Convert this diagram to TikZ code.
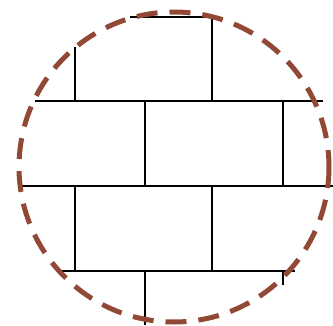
\documentclass[tikz,border=0pt]{standalone}
\definecolor{rim}{RGB}{145,72,52}
\begin{document}
\begin{tikzpicture}[x=1pt,y=-1pt,
  brick/.style={draw=black,line width=1.6pt},
  rimline/.style={draw=rim,line width=5pt,dash pattern=on 21pt off 12pt}]
\useasboundingbox (0,0) rectangle (333,325);
% brick courses
\draw[brick] (130,17) -- (212,17);
\draw[brick] (212,17) -- (212,101);
\draw[brick] (75,47) -- (75,101);
\draw[brick] (35,101) -- (323,101);
\draw[brick] (145,101) -- (145,186);
\draw[brick] (283,101) -- (283,186);
\draw[brick] (20,186) -- (333,186);
\draw[brick] (75,186) -- (75,271);
\draw[brick] (212,186) -- (212,271);
\draw[brick] (57,271) -- (295,271);
\draw[brick] (145,271) -- (145,325);
\draw[brick] (283,271) -- (283,285);
% dashed rim
\draw[rimline] (174,167) circle (155);
\end{tikzpicture}
\end{document}
